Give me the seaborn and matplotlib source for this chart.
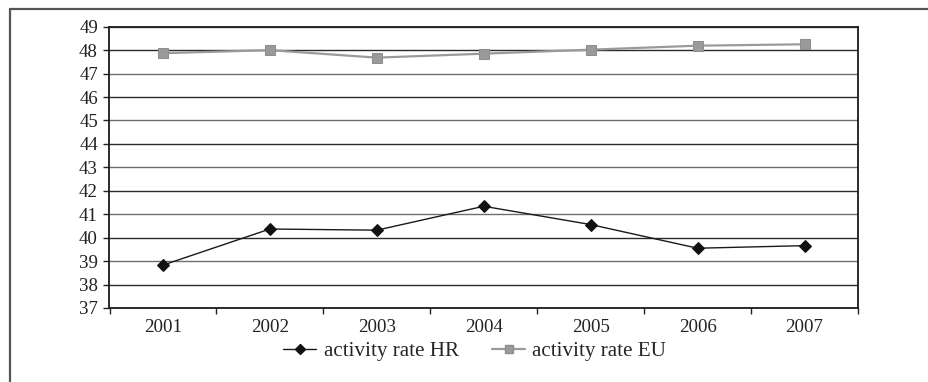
import matplotlib
matplotlib.use("Agg")
import matplotlib.pyplot as plt
import seaborn as sns
import pandas as pd
from matplotlib.lines import Line2D

years = ["2001", "2002", "2003", "2004", "2005", "2006", "2007"]
hr_values = [38.83, 40.37, 40.32, 41.34, 40.56, 39.55, 39.66]
eu_values = [47.87, 48.00, 47.68, 47.85, 48.02, 48.19, 48.25]
series_names = ["activity rate HR", "activity rate EU"]
y_ticks = list(range(37, 50))

sns.set_theme(style="white")
plt.rcParams['font.family'] = ['Liberation Serif', 'DejaVu Serif']

df = pd.DataFrame({
    "year": years * 2,
    "value": hr_values + eu_values,
    "series": [series_names[0]] * len(years) + [series_names[1]] * len(years),
})

fig = plt.figure(figsize=(9.29, 3.82), dpi=100)
ax = fig.add_axes([109.5 / 929, 1 - 308 / 382, (858 - 109.5) / 929, (308 - 26.7) / 382])

# gridlines
for i, v in enumerate(y_ticks):
    ax.axhline(v, color="#2a2a2a" if i % 2 == 1 else "#6e6e6e", lw=1.0, zorder=1)

sns.lineplot(data=df[df.series == series_names[1]], x="year", y="value", ax=ax,
             color="#9a9a9a", lw=1.6, marker="s", markersize=6.8,
             markeredgecolor="#8e8e8e", markerfacecolor="#9a9a9a",
             label=series_names[1], zorder=3, sort=False)
sns.lineplot(data=df[df.series == series_names[0]], x="year", y="value", ax=ax,
             color="#1a1a1a", lw=1.0, marker="D", markersize=6.0,
             markeredgecolor="#111111", markerfacecolor="#111111",
             label=series_names[0], zorder=4, sort=False)

ax.set_ylim(37, 49)
ax.set_xlim(-0.5, len(years) - 0.5)
ax.set_yticks(y_ticks)
ax.set_xticks(range(len(years)))
ax.set_xticklabels(years)
ax.set_xticks([i - 0.5 for i in range(len(years) + 1)], minor=True)
ax.set_xlabel("")
ax.set_ylabel("")

ax.tick_params(axis="y", which="major", left=True, length=4.3, width=1.0,
               color="#222222", pad=4.0, labelsize=13.6, labelcolor="#222222")
ax.tick_params(axis="x", which="major", bottom=False, length=0, pad=8,
               labelsize=13.6, labelcolor="#222222")
ax.tick_params(axis="x", which="minor", bottom=True, length=4, width=1.0,
               color="#222222")

for s in ax.spines.values():
    s.set_color("#1a1a1a")
    s.set_linewidth(1.3)
    s.set_visible(True)
ax.grid(False)

handles = [
    Line2D([0], [0], color="#1a1a1a", lw=1.0, marker="D", markersize=5.0,
           markerfacecolor="#111111", markeredgecolor="#111111"),
    Line2D([0], [0], color="#9a9a9a", lw=1.6, marker="s", markersize=5.5,
           markerfacecolor="#9a9a9a", markeredgecolor="#8e8e8e"),
]
ax.legend().remove()
fig.legend(handles, series_names, loc="center", bbox_to_anchor=(475 / 929, 1 - 351 / 382),
           ncol=2, frameon=False, fontsize=15.2, handlelength=1.55,
           handletextpad=0.35, columnspacing=1.6, borderaxespad=0)

# outer frame (left and top only)
fig.add_artist(Line2D([10 / 929, 10 / 929], [0, 1 - 9 / 382], transform=fig.transFigure,
                      color="#555555", lw=1.6))
fig.add_artist(Line2D([10 / 929, 1], [1 - 9 / 382, 1 - 9 / 382], transform=fig.transFigure,
                      color="#555555", lw=1.6))

fig.savefig("out.png", dpi=100)
